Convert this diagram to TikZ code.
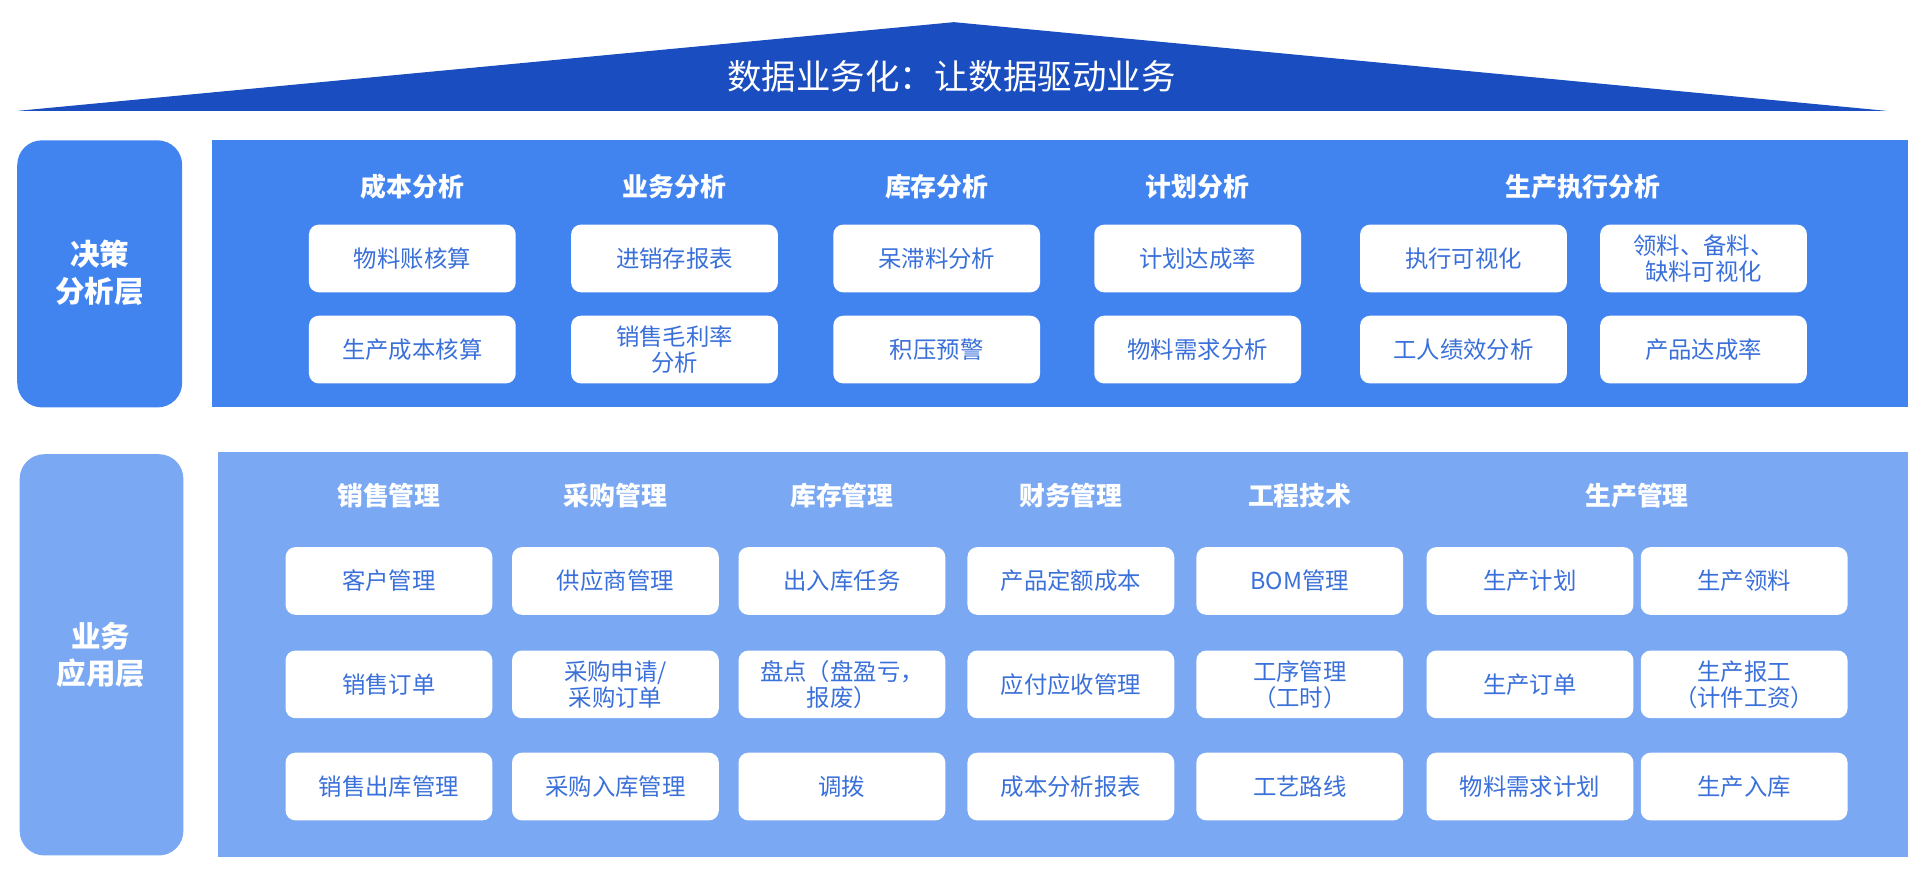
\documentclass[tikz,border=0pt]{standalone}
\usepackage{fontspec}
\setmainfont{Noto Sans CJK SC}
\definecolor{roofblue}{HTML}{1A4DC0}
\definecolor{topblue}{HTML}{4184F0}
\definecolor{lowblue}{HTML}{7AA8F2}
\definecolor{txtblue}{HTML}{3A70DA}
\begin{document}
\begin{tikzpicture}[x=0.5pt,y=-0.5pt,
    item/.style={draw=none,fill=white,rounded corners=4pt,minimum width=84pt,minimum height=27.5pt,
      text=txtblue,font=\fontsize{9.5}{10.5}\selectfont,align=center,inner sep=1pt},
    head/.style={text=white,font=\fontsize{10.5}{12}\selectfont\bfseries},
    layer/.style={rounded corners=10pt,text=white,font=\fontsize{12}{15}\selectfont\bfseries,align=center}]
  \useasboundingbox (0,0) rectangle (1568,718);
  % roof
  \fill[roofblue] (15,90) -- (775,18) -- (1532,90) -- cycle;
  \node[text=white,font=\fontsize{14}{16}\selectfont] (roof) at (773,62) {数据业务化：让数据驱动业务};
  % decision layer
  \fill[layer,fill=topblue] (14,114) rectangle (148,331);
  \node[layer] (dec) at (81,222) {决策\\分析层};
  \fill[topblue] (172,114) rectangle (1550,331);
  \foreach \x/\t [count=\i] in {335/成本分析,548/业务分析,761/库存分析,973/计划分析,1286/生产执行分析}
    \node[head] (dh\i) at (\x,152) {\t};
  \foreach \x/\y/\t [count=\i] in {335/210/物料账核算,335/284/生产成本核算,
      548/210/进销存报表,548/284/{销售毛利率\\分析},
      761/210/呆滞料分析,761/284/积压预警,
      973/210/计划达成率,973/284/物料需求分析,
      1189/210/执行可视化,1189/284/工人绩效分析,
      1384/210/{领料、备料、\\缺料可视化},1384/284/产品达成率}
    \node[item] (d\i) at (\x,\y) {\t};
  % application layer
  \fill[layer,fill=lowblue] (16,369) rectangle (149,695);
  \node[layer] (app) at (82,532) {业务\\应用层};
  \fill[lowblue] (177,367) rectangle (1550,696);
  \foreach \x/\t [count=\i] in {316/销售管理,500/采购管理,684/库存管理,870/财务管理,1056/工程技术,1330/生产管理}
    \node[head] (ah\i) at (\x,403) {\t};
  \foreach \x/\y/\t [count=\i] in {316/472/客户管理,316/556/销售订单,316/639/销售出库管理,
      500/472/供应商管理,500/556/{采购申请/\\采购订单},500/639/采购入库管理,
      684/472/出入库任务,684/556/{盘点（盘盈亏，\\报废）},684/639/调拨,
      870/472/产品定额成本,870/556/应付应收管理,870/639/成本分析报表,
      1056/472/BOM管理,1056/556/{工序管理\\（工时）},1056/639/工艺路线,
      1243/472/生产计划,1243/556/生产订单,1243/639/物料需求计划,
      1417/472/生产领料,1417/556/{生产报工\\（计件工资）},1417/639/生产入库}
    \node[item] (a\i) at (\x,\y) {\t};
\end{tikzpicture}
\end{document}
